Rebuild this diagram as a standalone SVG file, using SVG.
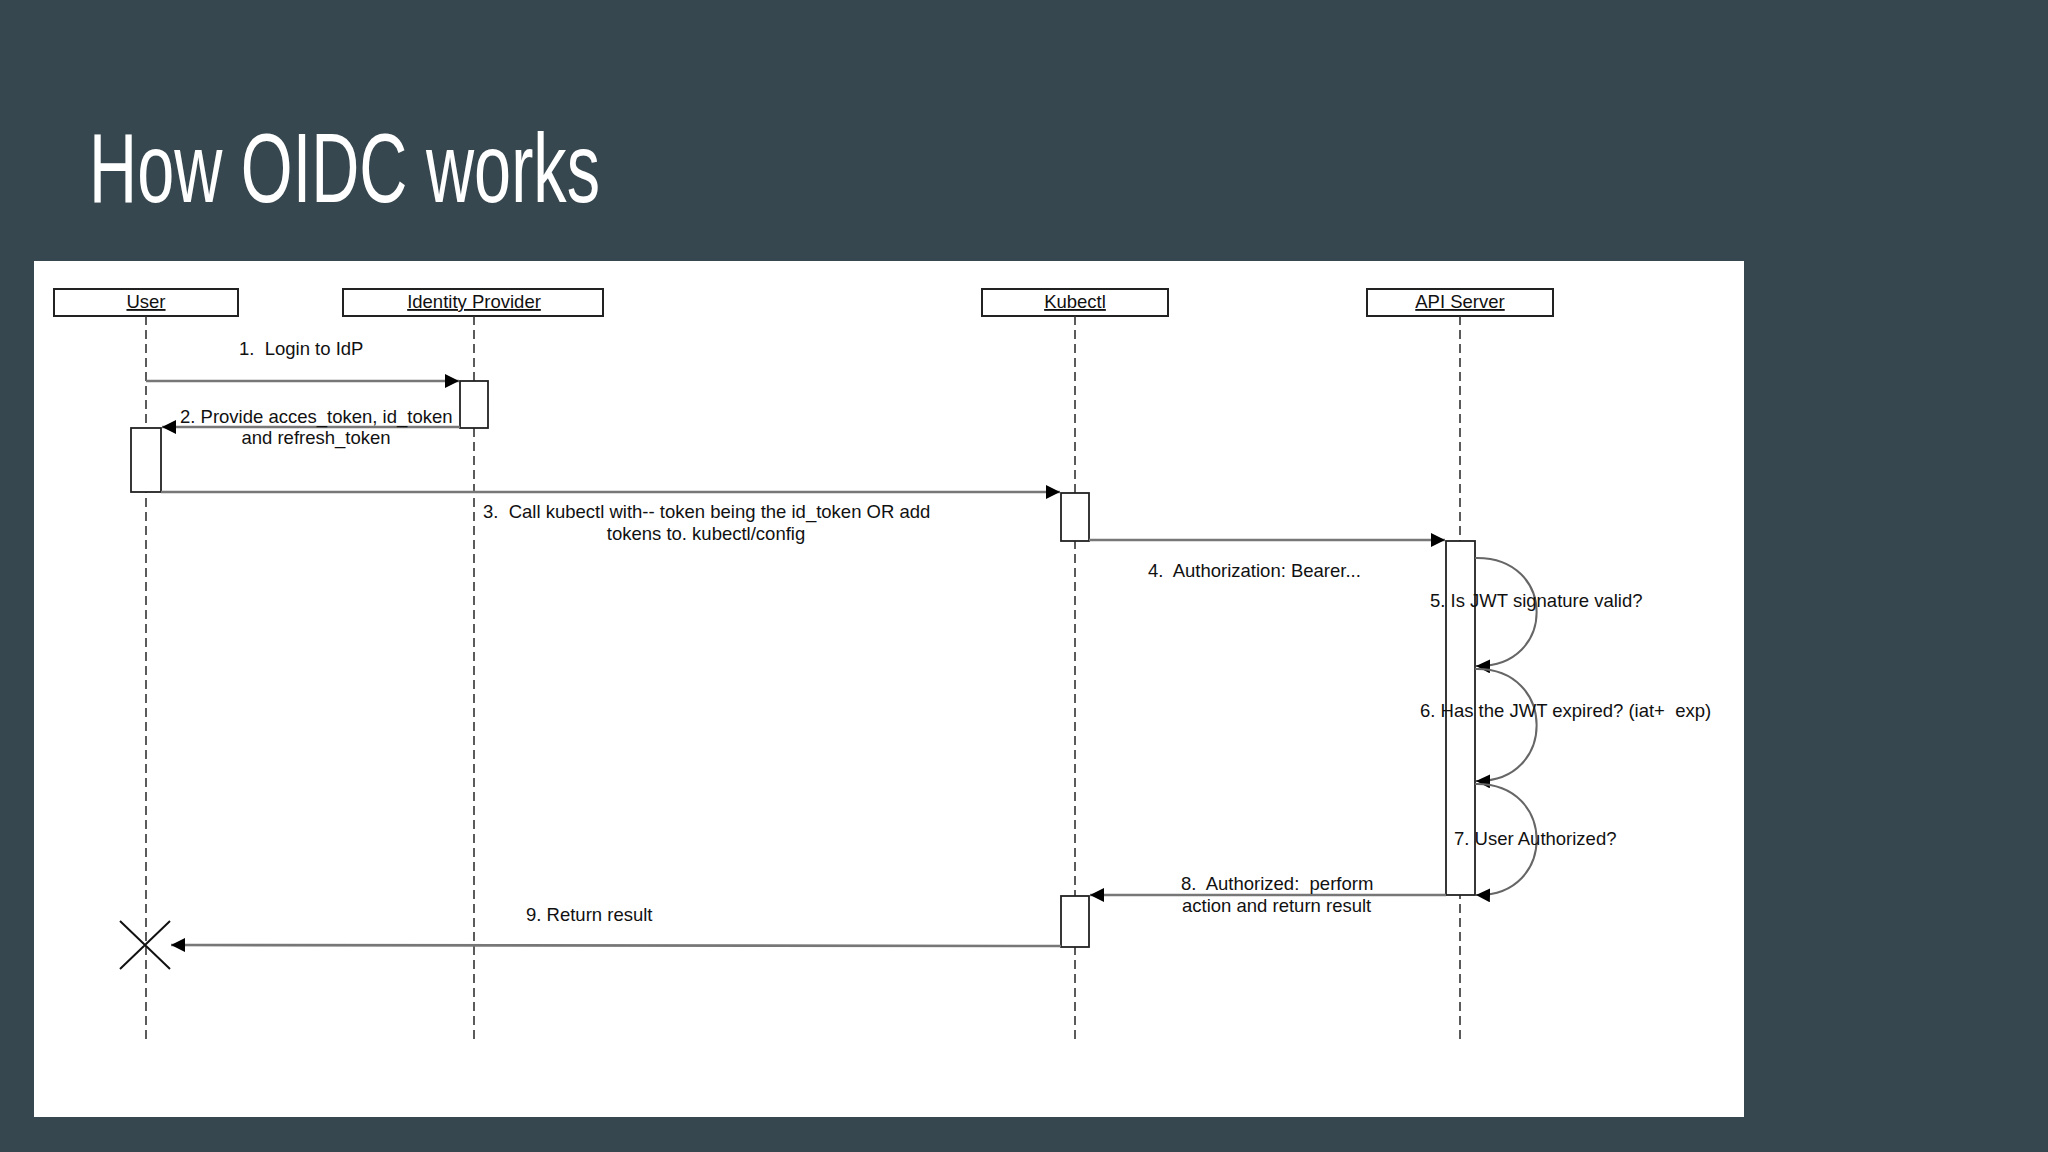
<svg xmlns="http://www.w3.org/2000/svg" width="2048" height="1152" viewBox="0 0 2048 1152">
<style>
.bg{fill:#37474f}
.panel{fill:#ffffff}
.title{font-family:"Liberation Sans",Arial,sans-serif;font-size:98px;fill:#ffffff}
.hdr{fill:#ffffff;stroke:#222;stroke-width:2}
.hdrt{font-family:"Liberation Sans",Arial,sans-serif;font-size:18.5px;fill:#111;text-decoration:underline;text-anchor:middle}
.life{stroke:#333;stroke-width:1.6;stroke-dasharray:9 5;fill:none}
.act{fill:#ffffff;stroke:#222;stroke-width:1.8}
.msg{stroke:#777;stroke-width:2.6;fill:none}
.loop{stroke:#666;stroke-width:2;fill:none}
.lbl{font-family:"Liberation Sans",Arial,sans-serif;font-size:18.5px;fill:#111;white-space:pre}
.mid{text-anchor:middle}
</style>
<defs>
<marker id="ah" viewBox="0 0 10 10" refX="10" refY="5" markerWidth="14" markerHeight="14" markerUnits="userSpaceOnUse" orient="auto">
<path d="M0,0 L10,5 L0,10 Z" fill="#000"/>
</marker>
</defs>
<rect class="bg" x="0" y="0" width="2048" height="1152"/>
<text class="title" x="89" y="202" textLength="511" lengthAdjust="spacingAndGlyphs">How OIDC works</text>
<rect class="panel" x="34" y="261" width="1710" height="856"/>

<g id="user">
<rect class="hdr" x="54" y="289" width="184" height="27"/>
<text class="hdrt" x="146" y="308">User</text>
<line class="life" x1="146" y1="316" x2="146" y2="1042"/>
<rect class="act" x="131" y="428" width="30" height="64"/>
<path d="M120,921 L170,969 M170,921 L120,969" stroke="#111" stroke-width="2" fill="none"/>
</g>
<g id="idp">
<rect class="hdr" x="343" y="289" width="260" height="27"/>
<text class="hdrt" x="474" y="308">Identity Provider</text>
<line class="life" x1="474" y1="316" x2="474" y2="1042"/>
<rect class="act" x="460" y="381" width="28" height="47"/>
</g>
<g id="kubectl">
<rect class="hdr" x="982" y="289" width="186" height="27"/>
<text class="hdrt" x="1075" y="308">Kubectl</text>
<line class="life" x1="1075" y1="316" x2="1075" y2="1042"/>
<rect class="act" x="1061" y="493" width="28" height="48"/>
<rect class="act" x="1061" y="896" width="28" height="51"/>
</g>
<g id="api">
<rect class="hdr" x="1367" y="289" width="186" height="27"/>
<text class="hdrt" x="1460" y="308">API Server</text>
<line class="life" x1="1460" y1="316" x2="1460" y2="1042"/>
<rect class="act" x="1446" y="541" width="29" height="354"/>
</g>

<g id="connectors">
<line class="msg" x1="146" y1="381" x2="459" y2="381" marker-end="url(#ah)"/>
<line class="msg" x1="460" y1="427" x2="162" y2="427" marker-end="url(#ah)"/>
<line class="msg" x1="161" y1="492" x2="1060" y2="492" marker-end="url(#ah)"/>
<line class="msg" x1="1089" y1="540" x2="1445" y2="540" marker-end="url(#ah)"/>
<path class="loop" d="M1475,558 C1557,556 1557,668 1476,666" marker-end="url(#ah)"/>
<path class="loop" d="M1475,669 C1557,667 1557,783 1476,781" marker-end="url(#ah)"/>
<path class="loop" d="M1475,784 C1557,782 1557,897 1476,895" marker-end="url(#ah)"/>
<line class="msg" x1="1446" y1="895" x2="1090" y2="895" marker-end="url(#ah)"/>
<line class="msg" x1="1061" y1="946" x2="171" y2="945" marker-end="url(#ah)"/>
</g>

<g id="labels" xml:space="preserve">
<text class="lbl" x="239" y="355">1.  Login to IdP</text>
<text class="lbl" x="180" y="423">2. Provide acces_token, id_token</text>
<text class="lbl mid" x="316" y="444">and refresh_token</text>
<text class="lbl" x="483" y="518">3.  Call kubectl with-- token being the id_token OR add</text>
<text class="lbl mid" x="706" y="540">tokens to. kubectl/config</text>
<text class="lbl" x="1148" y="577">4.  Authorization: Bearer...</text>
<text class="lbl" x="1430" y="607">5. Is JWT signature valid?</text>
<text class="lbl" x="1420" y="717">6. Has the JWT expired? (iat+  exp)</text>
<text class="lbl" x="1454" y="845">7. User Authorized?</text>
<text class="lbl" x="1181" y="890">8.  Authorized:  perform</text>
<text class="lbl" x="1182" y="912">action and return result</text>
<text class="lbl" x="526" y="921">9. Return result</text>
</g>
</svg>
